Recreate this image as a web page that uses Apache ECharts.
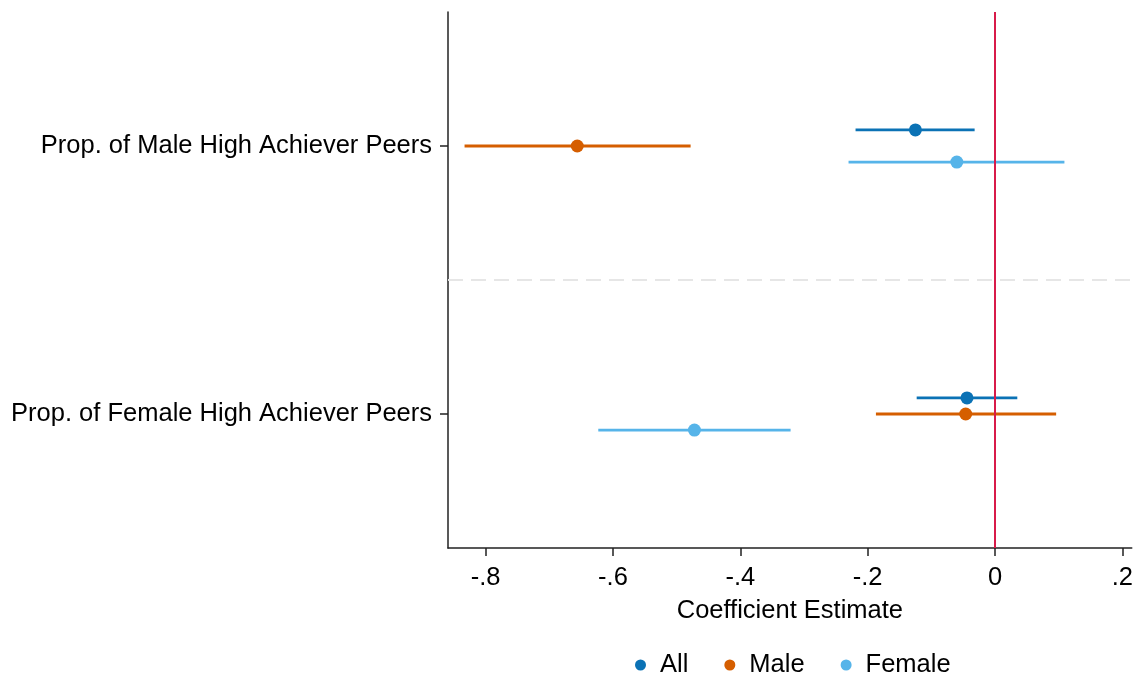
<!DOCTYPE html>
<html>
<head>
<meta charset="utf-8">
<script src="https://cdn.jsdelivr.net/npm/echarts@6/dist/echarts.min.js"></script>
<style>
  html, body { margin: 0; padding: 0; background: #fff; overflow: hidden; }
  #chart { width: 1136px; height: 679px; }
</style>
</head>
<body>
<div id="chart"></div>
<script>
// Regressors (rows, top to bottom)
const categories = ['Prop. of Male High Achiever Peers', 'Prop. of Female High Achiever Peers'];
// Samples
const groups = ['All', 'Male', 'Female'];
const groupColors = ['#0b72b5', '#d55e00', '#56b4e9'];

// Point estimates and 95% confidence bounds, one entry per regressor
const estAll    = [-0.125, -0.044];
const loAll     = [-0.219, -0.123];
const hiAll     = [-0.032,  0.035];

const estMale   = [-0.656, -0.046];
const loMale    = [-0.833, -0.187];
const hiMale    = [-0.478,  0.096];

const estFemale = [-0.060, -0.472];
const loFemale  = [-0.230, -0.623];
const hiFemale  = [ 0.109, -0.321];

const xTicks = [-0.8, -0.6, -0.4, -0.2, 0, 0.2];

const estimates = [estAll, estMale, estFemale];
const lows = [loAll, loMale, loFemale];
const highs = [hiAll, hiMale, hiFemale];

// each regressor occupies a band of height 2 on the y scale; groups are offset within it
const rowPos = categories.map((c, i) => 1 + 2 * i);
const groupOffset = [-0.12, 0, 0.12];

function fmtTick(v) {
  if (v === 0) return '0';
  const s = (Math.round(v * 10) / 10).toString();
  return s.replace('0.', '.');
}

const series = [];
groups.forEach((g, gi) => {
  series.push({
    name: g,
    type: 'custom',
    color: groupColors[gi],
    z: 2,
    renderItem: function (params, api) {
      const y = api.value(2);
      const p1 = api.coord([api.value(0), y]);
      const p2 = api.coord([api.value(1), y]);
      return {
        type: 'line',
        shape: { x1: p1[0], y1: p1[1], x2: p2[0], y2: p2[1] },
        style: { stroke: groupColors[gi], lineWidth: 2.8 }
      };
    },
    encode: { x: [0, 1], y: 2 },
    data: categories.map((c, i) => [lows[gi][i], highs[gi][i], rowPos[i] + groupOffset[gi]])
  });
  series.push({
    name: g,
    type: 'scatter',
    color: groupColors[gi],
    symbol: 'circle',
    symbolSize: 13,
    z: 3,
    itemStyle: { color: groupColors[gi], opacity: 1 },
    data: categories.map((c, i) => [estimates[gi][i], rowPos[i] + groupOffset[gi]])
  });
});

// reference lines: zero effect and the separator between regressors
series.push({
  name: 'refs',
  type: 'scatter',
  data: [],
  silent: true,
  markLine: {
    symbol: 'none',
    silent: true,
    label: { show: false },
    animation: false,
    data: [
      { xAxis: 0, lineStyle: { color: '#d81b4a', width: 2, type: 'solid' } },
      { yAxis: 2, lineStyle: { color: '#e6e6e6', width: 2, type: [15, 8] } }
    ]
  }
});

const chart = echarts.init(document.getElementById('chart'), null, { renderer: 'canvas' });
chart.setOption({
  animation: false,
  backgroundColor: '#ffffff',
  textStyle: { fontFamily: 'Liberation Sans, Arial, sans-serif' },
  grid: { left: 448, right: 0, top: 12, bottom: 131, containLabel: false },
  xAxis: {
    type: 'value',
    position: 'bottom',
    min: -0.859,
    max: 0.2147,
    name: 'Coefficient Estimate',
    nameLocation: 'middle',
    nameGap: 50,
    nameTextStyle: { fontSize: 25.5, color: '#000' },
    axisLine: { show: true, onZero: false, lineStyle: { color: '#222', width: 1.5 } },
    axisTick: { show: true, length: 8, lineStyle: { color: '#222', width: 1.5 }, customValues: xTicks },
    axisLabel: {
      fontSize: 25.5, color: '#000', margin: 17,
      customValues: xTicks,
      formatter: fmtTick
    },
    splitLine: { show: false }
  },
  yAxis: {
    type: 'value',
    position: 'left',
    min: 0,
    max: 4,
    inverse: true,
    axisLine: { show: true, onZero: false, lineStyle: { color: '#222', width: 1.5 } },
    axisTick: { show: true, length: 8, lineStyle: { color: '#222', width: 1.5 }, customValues: rowPos },
    axisLabel: {
      fontSize: 25.5, color: '#000', margin: 16,
      customValues: rowPos,
      formatter: function (v) {
        const i = rowPos.indexOf(v);
        return i >= 0 ? categories[i] : '';
      }
    },
    splitLine: { show: false }
  },
  legend: {
    data: groups.map(g => ({ name: g, icon: 'circle' })),
    top: 647,
    left: 630,
    itemWidth: 11,
    itemHeight: 11,
    itemGap: 36,
    textStyle: { fontSize: 25.5, color: '#000', padding: [0, 0, 0, 9] }
  },
  series: series
});
</script>
</body>
</html>
